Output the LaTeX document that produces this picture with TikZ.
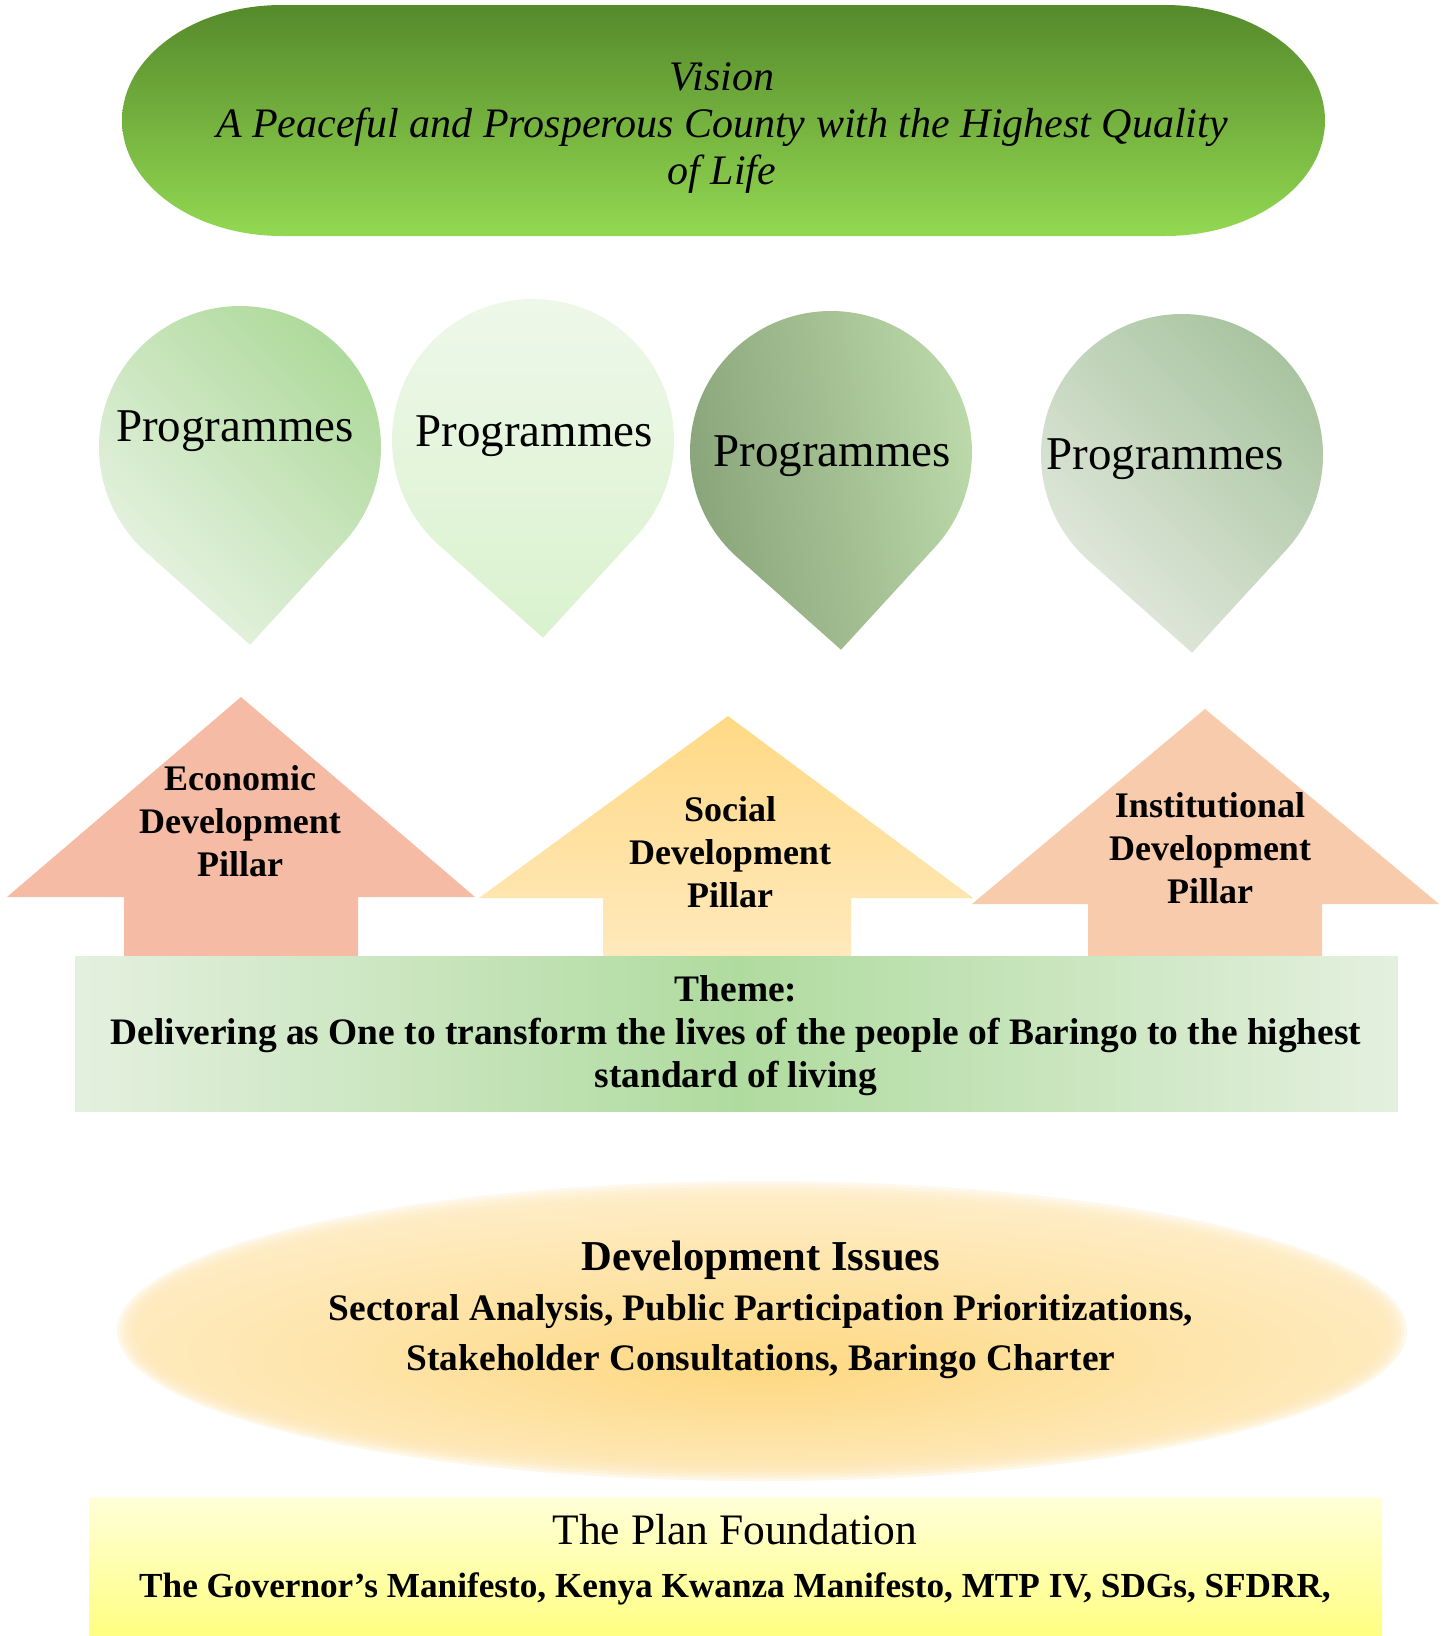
\documentclass[tikz,border=0pt]{standalone}
\usepackage{fontspec}
\setmainfont{Liberation Serif}
\usetikzlibrary{calc}

% palette
\definecolor{visiontop}{HTML}{558A2B}
\definecolor{visionbot}{HTML}{93D852}
\definecolor{dropAtop}{HTML}{ADD99A}
\definecolor{dropAbot}{HTML}{EAF4E6}
\definecolor{dropBtop}{HTML}{EFF8EB}
\definecolor{dropBbot}{HTML}{DAF2CE}
\definecolor{dropCtop}{HTML}{BCDAAA}
\definecolor{dropCbot}{HTML}{86A177}
\definecolor{dropDtop}{HTML}{A7C39E}
\definecolor{dropDbot}{HTML}{E5EBE1}
\definecolor{econfill}{HTML}{F5BBA4}
\definecolor{socialtop}{HTML}{FFD985}
\definecolor{socialbot}{HTML}{FFEBC4}
\definecolor{instfill}{HTML}{F8CBAD}
\definecolor{themeedge}{HTML}{E4F0DF}
\definecolor{themecenter}{HTML}{B0DB9F}
\definecolor{glowA}{HTML}{FDD983}
\definecolor{glowB}{HTML}{FEDE95}
\definecolor{glowC}{HTML}{FEE8B6}
\definecolor{glowD}{HTML}{FFF1D6}
\definecolor{glowE}{HTML}{FFF6E5}
\definecolor{foundtop}{HTML}{FFFFD9}
\definecolor{foundbot}{HTML}{FFFF82}

% golden radial glow, centred a little below the middle
\pgfdeclareradialshading{issueglow}{\pgfpoint{0bp}{-8bp}}{%
  color(0bp)=(glowA); color(8bp)=(glowB); color(22bp)=(glowC);
  color(38bp)=(glowD); color(50bp)=(glowE)}

% teardrop: centre x, centre y, fill options (tip points slightly right of straight down)
\newcommand{\teardrop}[3]{%
  \shade[#3] ($(#1,#2)+(87.1:198)$) -- ($(#1,#2)+(131.7:141)$)
    arc[start angle=131.7,end angle=402.5,radius=141] -- cycle;}

\begin{document}
\begin{tikzpicture}[x=1pt,y=-1pt,
  visiontext/.style={align=center,font=\itshape\fontsize{42}{47}\selectfont},
  progtext/.style={font=\fontsize{47}{52}\selectfont},
  pillartext/.style={align=center,font=\bfseries\fontsize{36}{43}\selectfont},
  themetext/.style={align=center,font=\bfseries\fontsize{37.4}{43}\selectfont},
  issuetext/.style={align=center,font=\bfseries\fontsize{37.4}{50}\selectfont},
  foundtext/.style={align=center,font=\fontsize{35.2}{53}\selectfont}]

\useasboundingbox (0,0) rectangle (1448,1636);
\fill[white] (0,0) rectangle (1448,1636);

% vision banner
\shade[top color=visiontop, bottom color=visionbot]
  (282,5) -- (1165,5) arc[start angle=-90,end angle=90,x radius=160,y radius=115.5]
  -- (282,236) arc[start angle=90,end angle=270,x radius=160,y radius=115.5] -- cycle;
\node[visiontext] (vision) at (722,128)
  {Vision\\A Peaceful and Prosperous County with the Highest Quality\\of Life};

% programme drops
\teardrop{240}{447}{top color=dropAtop, bottom color=dropAbot, shading angle=-45}
\teardrop{533}{440}{top color=dropBtop, bottom color=dropBbot}
\teardrop{831}{452}{top color=dropCtop, bottom color=dropCbot, shading angle=-80}
\teardrop{1182}{455}{top color=dropDtop, bottom color=dropDbot, shading angle=-45}
\node[progtext] (progA) at (235,431) {Programmes};
\node[progtext] (progB) at (534,436) {Programmes};
\node[progtext] (progC) at (832,456) {Programmes};
\node[progtext] (progD) at (1165,459) {Programmes};

% pillar arrows
\fill[econfill] (241,697) -- (475,897) -- (358,897) -- (358,990) -- (124,990)
  -- (124,897) -- (7,897) -- cycle;
\shade[top color=socialtop, bottom color=socialbot] (728,716) -- (973,898) -- (851,898)
  -- (851,990) -- (603,990) -- (603,898) -- (479,898) -- cycle;
\fill[instfill] (1205,709) -- (1439,904) -- (1322,904) -- (1322,990) -- (1088,990)
  -- (1088,904) -- (972,904) -- cycle;
\node[pillartext] (econ) at (240,821) {Economic\\Development\\Pillar};
\node[pillartext] (social) at (730,852) {Social\\Development\\Pillar};
\node[pillartext] (inst) at (1210,848) {Institutional\\Development\\Pillar};

% theme band
\shade[left color=themeedge, right color=themeedge, middle color=themecenter]
  (75,956) rectangle (1398,1111);
\node[themetext] (theme) at (736,1036)
  {Theme:\\Delivering as One to transform the lives of the people of Baringo to the highest\\standard of living};

% development issues: translucent rings give the soft rim, solid core on top
\foreach \d in {9,6,3,0,-3,-6,-9} {
  \pgfmathsetmacro\rx{636+\d}
  \pgfmathsetmacro\ry{141+\d}
  \shade[shading=issueglow, opacity=0.3] (762,1331) ellipse[x radius=\rx, y radius=\ry];
}
\shade[shading=issueglow] (762,1331) ellipse[x radius=626, y radius=131];
\node[issuetext] (issues) at (761,1310)
  {{\fontsize{42.6}{50}\selectfont Development Issues}\\
   Sectoral Analysis, Public Participation Prioritizations,\\
   Stakeholder Consultations, Baringo Charter};

% plan foundation
\shade[top color=foundtop, bottom color=foundbot] (89,1497) rectangle (1382,1636);
\node[foundtext] (found) at (735,1560)
  {{\fontsize{43.5}{53}\selectfont The Plan Foundation}\\
   \textbf{The Governor’s Manifesto, Kenya Kwanza Manifesto, MTP IV, SDGs, SFDRR,}};

\end{tikzpicture}
\end{document}
